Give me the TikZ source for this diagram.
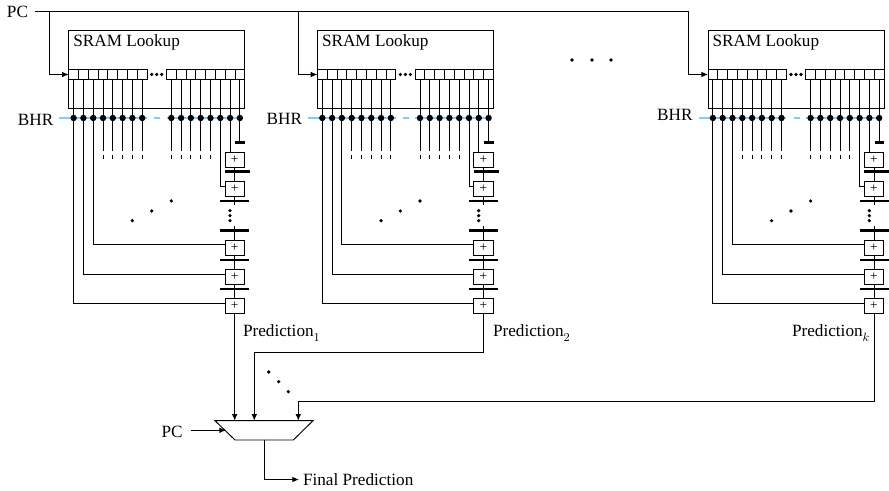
\documentclass[tikz,border=0pt]{standalone}
\usepackage{amsmath}
\usepackage{fontspec}
\setmainfont{Liberation Serif}
\usepackage{tikz}
\usetikzlibrary{arrows.meta, calc, backgrounds}
\definecolor{bhrblue}{HTML}{7FCDFF}
\newcommand{\predsub}[1]{$_{\raisebox{-1.6pt}{$\scriptstyle #1$}}$}
\tikzset{
  wire/.style={draw=black, line width=0.7pt},
  wiretip/.style={wire, -{Latex[length=5pt,width=4.2pt]}},
  bhrline/.style={draw=bhrblue, line width=1.3pt},
  txt/.style={font=\fontsize{12.9}{15}\selectfont, inner sep=0pt, outer sep=0pt},
  sram/.style={wire, inner sep=0pt, outer sep=0pt, minimum width=132pt, minimum height=58.5pt},
  cell/.style={wire, fill=white, inner sep=0pt, outer sep=0pt, minimum width=7.35pt, minimum height=7.5pt},
  adder/.style={wire, fill=white, inner sep=0pt, outer sep=0pt, minimum width=14.5pt, minimum height=11.25pt, font=\fontsize{10}{10}\selectfont},
  bar/.style={fill=black, inner sep=0pt, outer sep=0pt, minimum height=2pt, minimum width=21.75pt},
  tapdot/.style={circle, fill=black, inner sep=0pt, minimum size=4.8pt},
  tinydot/.style={circle, fill=black, inner sep=0pt, minimum size=2.7pt},
}

\begin{document}
\begin{tikzpicture}[x=0.75pt, y=-0.75pt]
\useasboundingbox (0,0) rectangle (889,491);

\node[txt, anchor=east] (pctop) at (28,12) {PC};
\coordinate (tapk) at (688.6,11);

% one predictor table per block
\foreach \b/\dx/\ly in {1/0/120, 2/248.7/119, k/639.3/115} {
\begin{scope}[shift={(\dx,0)}]
  \node[sram] (sram\b) at (156.75,69) {};
  \node[txt, anchor=base west] (sramtext\b) at (73.3,46.7) {SRAM Lookup};
  \node[txt, anchor=east] (bhr\b) at (53.3,\ly) {BHR};
  \coordinate (tap\b) at (49.3,11);

  % table entries and the BHR taps under them
  \foreach \i [evaluate=\i as \cx using {73.6+9.8*(\i-1)+(\i>8)*19.3}] in {1,...,16} {
    \node[cell] (cell\b-\i) at (\cx,74.5) {};
    \node[tapdot] (dot\b-\i) at (\cx,118) {};
    \draw[wire] (cell\b-\i.south) -- (dot\b-\i.center);
  }
  \foreach \i/\x in {1/151.7, 2/156.7, 3/161.7}
    \node[tinydot] (gap\b-\i) at (\x,74.5) {};

  % adder chain
  \node[bar, minimum width=7.2pt] (bar\b-1) at (240,142.3) {};
  \node[adder] (add\b-1) at (234.7,159.5) {+};
  \node[bar, minimum width=18.75pt] (bar\b-2) at (237.5,171.7) {};
  \node[adder] (add\b-2) at (234.7,189.2) {+};
  \node[bar] (bar\b-3) at (234.7,201) {};
  \node[bar] (bar\b-4) at (234.7,230.7) {};
  \node[adder] (add\b-3) at (234.7,247.6) {+};
  \node[bar] (bar\b-5) at (234.7,260) {};
  \node[adder] (add\b-4) at (234.7,276.8) {+};
  \node[bar] (bar\b-6) at (234.7,289) {};
  \node[adder] (add\b-5) at (234.7,305.8) {+};
  \coordinate (stubup\b) at (234.7,205.5);
  \coordinate (stubdn\b) at (234.7,226.5);
  \foreach \i/\y in {1/210.7, 2/215.7, 3/220.7}
    \node[tinydot] (vdot\b-\i) at (230,\y) {};
  \foreach \i/\x/\y in {1/132.3/220.7, 2/151.7/211, 3/171.3/201}
    \node[tinydot] (ddot\b-\i) at (\x,\y) {};

  \draw[wire] (dot\b-16.center) -- (bar\b-1.north -| dot\b-16);
  \draw[wire] (dot\b-15.center) -- (add\b-1.north -| dot\b-15);
  \draw[wire] (add\b-1.south) -- (add\b-2.north);
  \draw[wire] (add\b-2.south) -- (stubup\b);
  \draw[wire] (stubdn\b) -- (add\b-3.north);
  \draw[wire] (add\b-3.south) -- (add\b-4.north);
  \draw[wire] (add\b-4.south) -- (add\b-5.north);
  \draw[wire] (dot\b-14.center) |- ([yshift=2pt]add\b-2.west);
  \draw[wire] (dot\b-3.center) |- ([yshift=2pt]add\b-3.west);
  \draw[wire] (dot\b-2.center) |- ([yshift=2pt]add\b-4.west);
  \draw[wire] (dot\b-1.center) |- ([yshift=2pt]add\b-5.west);

  % the taps that stop short
  \foreach \i in {4,5,6,7,8,9,10,11,12,13} {
    \coordinate (stub\b-\i) at (dot\b-\i |- 0,150.7);
    \draw[wire] (dot\b-\i.center) -- (stub\b-\i);
    \draw[wire] ($(stub\b-\i)+(0,4.4)$) -- ($(stub\b-\i)+(0,8.8)$);
  }

  \begin{scope}[on background layer]
    \draw[bhrline] ([xshift=4.5pt]bhr\b.east |- dot\b-1.center) -- ([xshift=3.6pt]dot\b-8.center);
    \draw[bhrline] ([xshift=9pt]dot\b-8.center) -- ([xshift=13.5pt]dot\b-8.center);
    \draw[bhrline] ([xshift=-3.6pt]dot\b-9.center) -- (dot\b-16.center);
  \end{scope}
\end{scope}
}

% program counter into each table
\draw[wire] ([xshift=5.2pt]pctop.east |- tapk) -- (tapk);
\draw[wiretip] (tap1) |- (cell1-1.west);
\draw[wiretip] (tap2) |- (cell2-1.west);
\draw[wiretip] (tapk) |- (cellk-1.west);

\foreach \i/\x in {1/572, 2/592, 3/611}
  \node[tinydot] (topdot\i) at (\x,60) {};

\node[txt, anchor=base west] (pred1) at (243,337) {Prediction\predsub{1}};
\node[txt, anchor=base west] (pred2) at (493,337) {Prediction\predsub{2}};
\node[txt, anchor=base west] (predk) at (792,337) {Prediction\predsub{k}};

% selection mux
\coordinate (muxin1) at (234.7,420.7);
\coordinate (muxin2) at (254.3,420.7);
\coordinate (muxin3) at (298.3,420.7);
\coordinate (bend2) at (254.3,352.3);
\coordinate (bend3) at (298.3,401);
\coordinate (muxpc) at (226,430.3);
\coordinate (muxout) at (264.3,440);
\draw[wire] (215,420.7) -- (313,420.7) -- (293.3,440) -- (235,440) -- cycle;
\node[txt, anchor=east] (pcmux) at (182.7,431.5) {PC};
\node[txt, anchor=west] (final) at (303,479.5) {Final Prediction};

\draw[wiretip] (add1-5.south) -- (muxin1);
\draw[wiretip] (add2-5.south) |- (bend2) -- (muxin2);
\draw[wiretip] (addk-5.south) |- (bend3) -- (muxin3);
\draw[wiretip] ([xshift=6pt]pcmux.east |- muxpc) -- (muxpc);
\draw[wiretip] (muxout) |- ([xshift=-3pt,yshift=0pt]final.west);

\foreach \i/\x/\y in {1/268.7/372, 2/278.7/381.7, 3/288.3/391.7}
  \node[tinydot] (muxdot\i) at (\x,\y) {};
\end{tikzpicture}
\end{document}
